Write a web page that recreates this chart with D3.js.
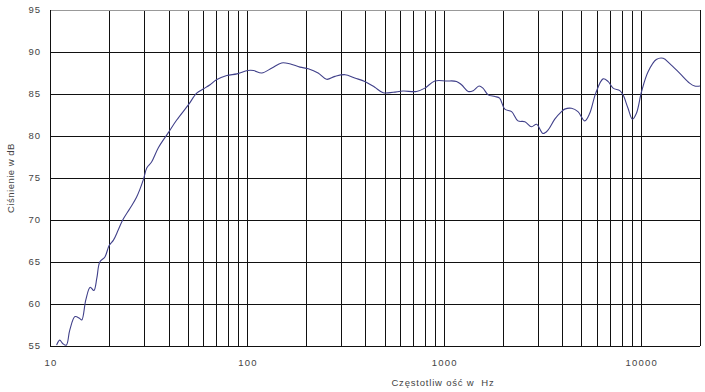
<!DOCTYPE html>
<html>
<head>
<meta charset="utf-8">
<script src="https://cdn.jsdelivr.net/npm/d3@7"></script>
<style>
  body { margin: 0; background: #fff; }
  svg { display: block; font-family: "Liberation Sans", Arial, sans-serif; }
</style>
</head>
<body>
<svg></svg>
<script>
const width = 705;
const height = 392;

const freqs = [10.8, 11.2, 11.6, 12.1, 12.6, 13.4, 14.1, 14.5, 15.2, 16, 16.7, 17.3, 17.9, 19, 20, 21, 22.2, 23.4, 25.5, 27.5,
    29.8, 31, 32.8, 35.5, 39.9, 44, 50.4, 55.6, 60, 65, 70, 79, 89, 101, 108, 119, 134, 150, 165, 186,
    205, 230, 254, 280, 315, 353, 397, 446, 492, 553, 621, 727, 801, 900, 1030, 1160, 1230, 1330, 1410, 1510,
    1580, 1680, 1820, 1920, 2040, 2210, 2380, 2580, 2790, 2960, 3190, 3380, 3660, 3960, 4110, 4450, 4800, 5200, 5510, 5910,
    6440, 6820, 7240, 7830, 8130, 8620, 9080, 9510, 10100, 10900, 12000, 13000, 14000, 15800, 17700, 18800, 20000];
const spl = [55.1, 55.7, 55.3, 55.1, 56.9, 58.5, 58.3, 58.1, 60.5, 62.0, 61.6, 63.1, 65.0, 65.6, 67.0, 67.6, 68.8, 70.0, 71.4, 72.7,
    74.8, 76.2, 76.9, 78.6, 80.4, 81.9, 83.7, 85.1, 85.6, 86.1, 86.7, 87.2, 87.4, 87.8, 87.8, 87.5, 88.1, 88.7, 88.6, 88.2,
    88.0, 87.5, 86.75, 87.1, 87.3, 86.9, 86.5, 85.8, 85.15, 85.2, 85.35, 85.3, 85.7, 86.55, 86.55, 86.5, 86.1, 85.3, 85.4, 85.95,
    85.7, 84.9, 84.7, 84.5, 83.2, 82.9, 81.8, 81.7, 81.1, 81.4, 80.3, 80.7, 82.0, 82.9, 83.2, 83.3, 82.9, 81.8, 82.7, 85.1,
    86.8, 86.5, 85.7, 85.4, 84.9, 83.3, 82.0, 82.7, 85.3, 87.65, 89.1, 89.25, 88.65, 87.45, 86.3, 85.95, 85.95];

const xTicks = [10, 100, 1000, 10000];
const yTicks = [55, 60, 65, 70, 75, 80, 85, 90, 95];
const xGrid = [20, 30, 40, 50, 60, 70, 80, 90, 100, 200, 300, 400, 500, 600, 700, 800, 900,
    1000, 2000, 3000, 4000, 5000, 6000, 7000, 8000, 9000, 10000, 20000];

const xTitle = "Częstotliw ość w  Hz";
const yTitle = "Ciśnienie w dB";

let svg = d3.select("svg")
    .attr("width", width)
    .attr("height", height);

const plotL = 50, plotR = 700, plotT = 10, plotB = 346;

let x = d3.scaleLog().domain([10, 20000]).range([plotL, plotR]);
let y = d3.scaleLinear().domain([55, 95]).range([plotB, plotT]);

function drawGrid() {
    let g = svg.append("g");

    g.selectAll(".hg")
        .data(yTicks.filter(d => d > 55 && d < 95))
        .join("line")
        .attr("x1", plotL).attr("x2", plotR)
        .attr("y1", d => Math.round(y(d)) + 0.5)
        .attr("y2", d => Math.round(y(d)) + 0.5)
        .attr("stroke", "#111");

    g.selectAll(".vg")
        .data(xGrid)
        .join("line")
        .attr("x1", d => Math.round(x(d)) + 0.5)
        .attr("x2", d => Math.round(x(d)) + 0.5)
        .attr("y1", plotT).attr("y2", plotB)
        .attr("stroke", "#111");

    // górna krawędź szara
    g.append("line")
        .attr("x1", plotL).attr("x2", plotR)
        .attr("y1", plotT + 0.5).attr("y2", plotT + 0.5)
        .attr("stroke", "#999");
    g.append("line")
        .attr("x1", plotL + 0.5).attr("x2", plotL + 0.5)
        .attr("y1", plotT).attr("y2", plotB)
        .attr("stroke", "#111");
    g.append("line")
        .attr("x1", plotL).attr("x2", plotR)
        .attr("y1", plotB + 0.5).attr("y2", plotB + 0.5)
        .attr("stroke", "#111");
}

function drawAxes() {
    svg.append("g")
        .selectAll("text")
        .data(yTicks)
        .join("text")
        .attr("x", 41)
        .attr("y", d => y(d))
        .attr("dy", "0.35em")
        .attr("text-anchor", "end")
        .style("font-size", "9.5px")
        .style("letter-spacing", "1px")
        .style("fill", "#444")
        .text(d => d);

    svg.append("g")
        .selectAll("text")
        .data(xTicks)
        .join("text")
        .attr("x", d => x(d) + 1)
        .attr("y", 366)
        .attr("text-anchor", "middle")
        .style("font-size", "9.5px")
        .style("letter-spacing", "1.2px")
        .style("fill", "#444")
        .text(d => d);

    svg.append("text")
        .attr("x", 443)
        .attr("y", 386)
        .attr("text-anchor", "middle")
        .style("font-size", "9.5px")
        .style("letter-spacing", "0.8px")
        .style("white-space", "pre")
        .style("fill", "#444")
        .text(xTitle);

    svg.append("text")
        .attr("transform", "translate(14,178) rotate(-90)")
        .attr("text-anchor", "middle")
        .style("font-size", "9.5px")
        .style("letter-spacing", "0.5px")
        .style("fill", "#444")
        .text(yTitle);
}

function drawCurve() {
    let data = freqs.map((f, i) => ({f: f, v: spl[i]}));
    let line = d3.line()
        .x(d => x(d.f))
        .y(d => y(d.v))
        .curve(d3.curveCatmullRom);

    svg.append("clipPath").attr("id", "clip")
        .append("rect")
        .attr("x", plotL).attr("y", plotT)
        .attr("width", plotR - plotL).attr("height", plotB - plotT);

    svg.append("path")
        .attr("d", line(data))
        .attr("clip-path", "url(#clip)")
        .attr("fill", "none")
        .attr("stroke", "#40408a")
        .attr("stroke-width", 1.1);
}

drawGrid();
drawAxes();
drawCurve();
</script>
</body>
</html>
